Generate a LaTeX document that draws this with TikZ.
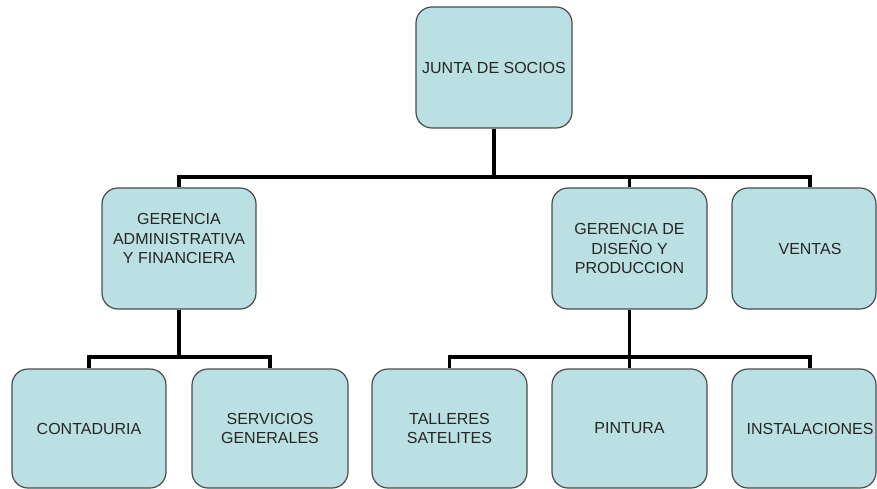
\documentclass[tikz,border=0pt]{standalone}
\usepackage{fontspec}
\setmainfont{Liberation Sans}
\begin{document}
\begin{tikzpicture}[x=1pt,y=-1pt,
  unit/.style={draw=black!70, line width=1.2pt, fill=boxfill, rounded corners=16pt,
    minimum width=155pt, minimum height=121pt, inner sep=0pt, align=center,
    text=black!85, font=\fontsize{16}{19.5}\selectfont},
  lowunit/.style={unit, minimum height=119pt},
  conn/.style={draw=black, line width=3.3pt, line join=miter}]
\definecolor{boxfill}{HTML}{BAE0E3}
\useasboundingbox (0,0) rectangle (877,489);

% board and managers
\node[unit, minimum width=156pt] (jd) at (494,67.5) {JUNTA DE SOCIOS};
\node[unit, minimum width=154pt] (ga) at (179,248.5) {GERENCIA\\ADMINISTRATIVA\\Y FINANCIERA\\\mbox{}};
\node[unit] (gd) at (629.5,248.5) {GERENCIA DE\\DISEÑO Y\\PRODUCCION};
\node[unit, minimum width=144pt] (ve) at (804,248.5) {\hspace*{12pt}VENTAS};

% departments
\node[lowunit, minimum width=154pt] (co) at (89,428.5) {CONTADURIA};
\node[lowunit, minimum width=156pt] (sg) at (270,428.5) {SERVICIOS\\GENERALES};
\node[lowunit] (ta) at (449.5,428.5) {TALLERES\\SATELITES};
\node[lowunit] (pi) at (629.5,428.5) {PINTURA};
\node[lowunit, minimum width=144pt] (in) at (804,428.5) {\hspace*{12pt}INSTALACIONES};

% reporting lines
\coordinate (bus1) at (494,177);
\coordinate (bus2) at (179,357);
\coordinate (bus3) at (629.5,357);
\draw[conn] (jd.south) -- (bus1);
\draw[conn] (bus1) -| (ga.north);
\draw[conn] (bus1) -| (gd.north);
\draw[conn] (bus1) -| ([xshift=6pt]ve.north);

\draw[conn] (ga.south) -- (bus2);
\draw[conn] (bus2) -| (co.north);
\draw[conn] (bus2) -| (sg.north);

\draw[conn] (gd.south) -- (bus3);
\draw[conn] (bus3) -| (ta.north);
\draw[conn] (bus3) -| (pi.north);
\draw[conn] (bus3) -| ([xshift=6pt]in.north);
\end{tikzpicture}
\end{document}
